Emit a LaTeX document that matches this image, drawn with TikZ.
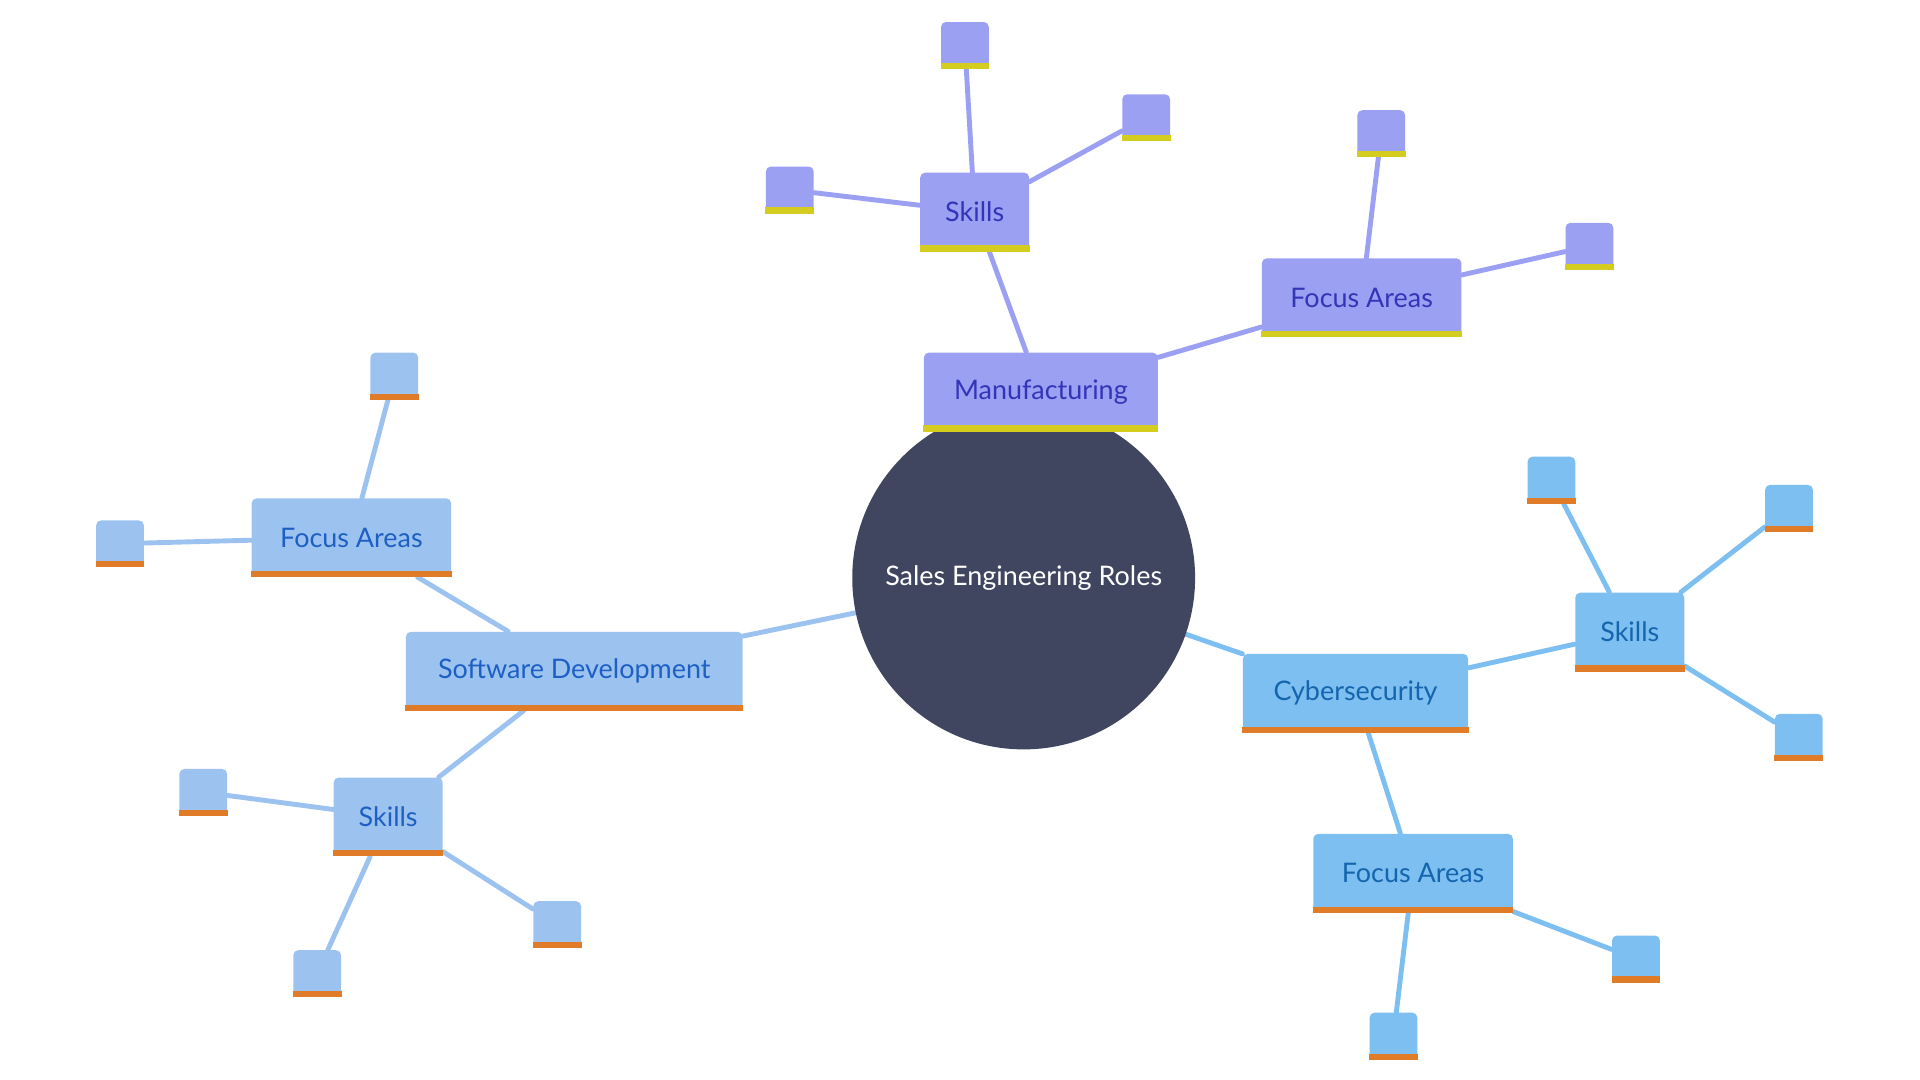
\documentclass[tikz,border=0pt]{standalone}
\usepackage{fontspec}
\setmainfont{Lato}
\usetikzlibrary{positioning,backgrounds}
\definecolor{mfill}{HTML}{9BA0F2}
\definecolor{mtext}{HTML}{3434B8}
\definecolor{mbar}{HTML}{D4CC1E}
\definecolor{sfill}{HTML}{9CC3F0}
\definecolor{stext}{HTML}{1D5FC4}
\definecolor{sbar}{HTML}{E07B28}
\definecolor{cfill}{HTML}{7CBFF0}
\definecolor{ctext}{HTML}{1565AE}
\definecolor{rootfill}{HTML}{414660}

\begin{document}
\begin{tikzpicture}[x=0.5pt, y=-0.5pt,
	root/.style={circle, draw=none, fill=rootfill, minimum size=140pt,
		text=white, font=\fontsize{11}{13}\selectfont},
	topic/.style={rectangle, draw=none, rounded corners=2pt, minimum height=32pt,
		font=\fontsize{11}{13}\selectfont},
	leaf/.style={rectangle, draw=none, rounded corners=2pt, minimum width=19.5pt,
		minimum height=19pt},
	man/.style={fill=mfill, text=mtext},
	soft/.style={fill=sfill, text=stext},
	cyb/.style={fill=cfill, text=ctext},
	link/.style={line width=2pt, line cap=round}
	]
	\useasboundingbox (0,0) rectangle (1568,882);
	\node (root) [root] at (836,472) {Sales Engineering Roles};
	% manufacturing
	\node (man) [topic,man,minimum width=95.5pt] at (850,320) {Manufacturing};
	\node (manS) [topic,man,minimum width=44.5pt] at (796,173) {Skills};
	\node (manF) [topic,man,minimum width=81.5pt] at (1112,243) {Focus Areas};
	\node (manS1) [leaf,man] at (788,37) {};
	\node (manS2) [leaf,man] at (936,96) {};
	\node (manS3) [leaf,man] at (645,155) {};
	\node (manF1) [leaf,man] at (1128,109) {};
	\node (manF2) [leaf,man] at (1298,201) {};
	% software development
	\node (soft) [topic,soft,minimum width=137.5pt] at (469,548) {Software Development};
	\node (softF) [topic,soft,minimum width=81.5pt] at (287,439) {Focus Areas};
	\node (softS) [topic,soft,minimum width=44.5pt] at (317,667) {Skills};
	\node (softF1) [leaf,soft] at (322,307) {};
	\node (softF2) [leaf,soft] at (98,444) {};
	\node (softS1) [leaf,soft] at (166,647) {};
	\node (softS2) [leaf,soft] at (259,795) {};
	\node (softS3) [leaf,soft] at (455,755) {};
	% cybersecurity
	\node (cyb) [topic,cyb,minimum width=92pt] at (1107,566) {Cybersecurity};
	\node (cybS) [topic,cyb,minimum width=44.5pt] at (1331,516) {Skills};
	\node (cybF) [topic,cyb,minimum width=81.5pt] at (1154,713) {Focus Areas};
	\node (cybS1) [leaf,cyb] at (1267,392) {};
	\node (cybS2) [leaf,cyb] at (1461,415) {};
	\node (cybS3) [leaf,cyb] at (1469,602) {};
	\node (cybF1) [leaf,cyb] at (1336,783) {};
	\node (cybF2) [leaf,cyb] at (1138,846) {};
	% bottom bars
	\foreach \n in {man,manS,manF,manS1,manS2,manS3,manF1,manF2}
		\fill[mbar] ([yshift=2.5pt]\n.south west) rectangle (\n.south east);
	\foreach \n in {soft,softF,softS,softF1,softF2,softS1,softS2,softS3,
		cyb,cybS,cybF,cybS1,cybS2,cybS3,cybF1,cybF2}
		\fill[sbar] ([yshift=2.5pt]\n.south west) rectangle (\n.south east);
	\begin{pgfonlayer}{background}
		\foreach \a/\b in {root/man,man/manS,man/manF,manS/manS1,manS/manS2,
			manS/manS3,manF/manF1,manF/manF2}
			\draw[link,mfill] (\a) -- (\b);
		\foreach \a/\b in {root/soft,soft/softF,soft/softS,softF/softF1,softF/softF2,
			softS/softS1,softS/softS2,softS/softS3}
			\draw[link,sfill] (\a) -- (\b);
		\foreach \a/\b in {root/cyb,cyb/cybS,cyb/cybF,cybS/cybS1,cybS/cybS2,
			cybS/cybS3,cybF/cybF1,cybF/cybF2}
			\draw[link,cfill] (\a) -- (\b);
	\end{pgfonlayer}
\end{tikzpicture}
\end{document}
